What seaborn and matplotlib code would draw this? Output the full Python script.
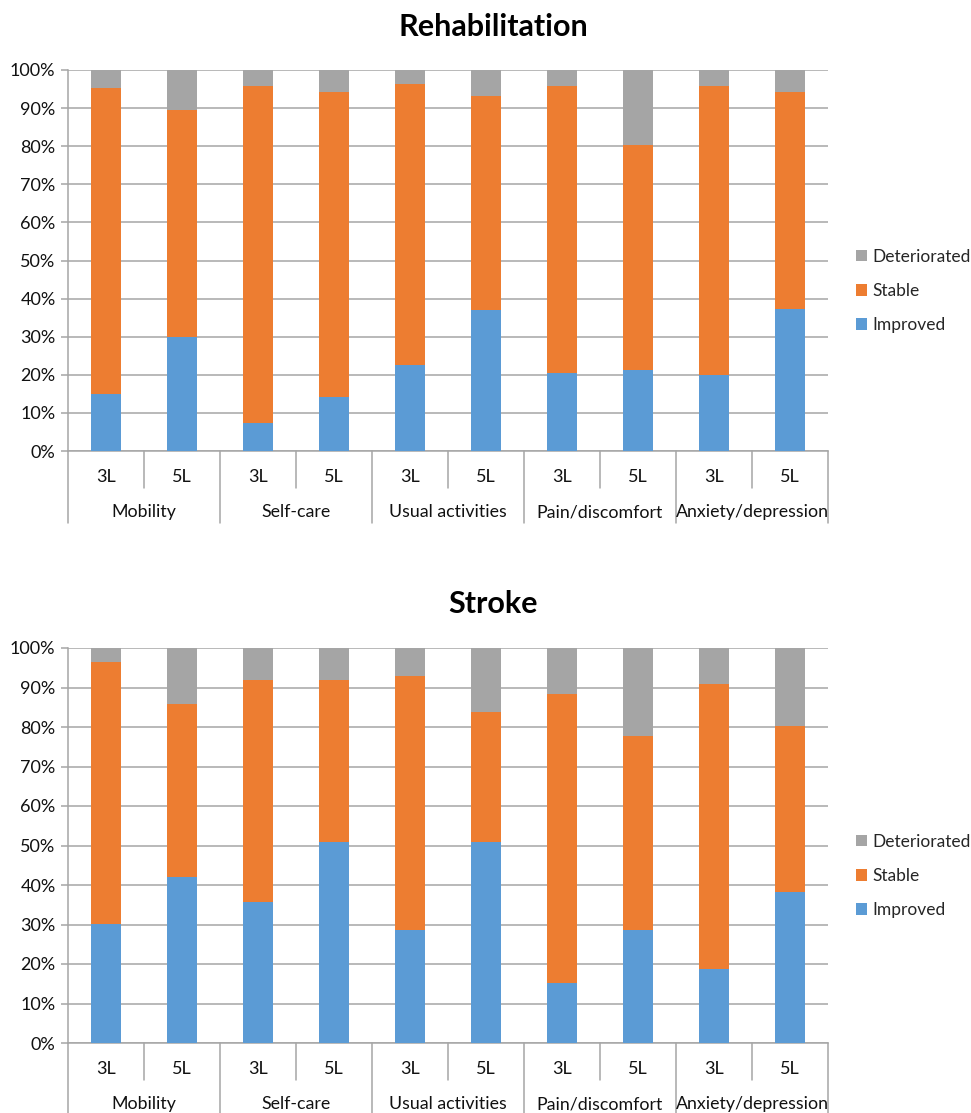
import numpy as np
import pandas as pd
import matplotlib
matplotlib.use("Agg")
import matplotlib.pyplot as plt
from matplotlib.patches import Patch
from matplotlib.lines import Line2D
import seaborn as sns

# EQ-5D dimensions and instrument versions
dimensions = ["Mobility", "Self-care", "Usual activities", "Pain/discomfort", "Anxiety/depression"]
versions = ["3L", "5L"]

# Percent of patients per change category, ordered Mobility 3L, Mobility 5L, Self-care 3L, ...
rehab_improved = [15.0, 30.0, 7.3, 14.1, 22.7, 37.0, 20.4, 21.2, 19.9, 37.4]
rehab_stable = [80.4, 59.6, 88.6, 80.0, 73.7, 56.3, 75.5, 59.0, 76.0, 56.7]
rehab_deteriorated = [4.6, 10.4, 4.1, 5.9, 3.6, 6.7, 4.1, 19.8, 4.1, 5.9]

stroke_improved = [30.2, 42.0, 35.6, 50.8, 28.5, 50.8, 15.2, 28.5, 18.7, 38.3]
stroke_stable = [66.2, 43.7, 56.3, 41.1, 64.3, 33.1, 73.1, 49.1, 72.3, 42.0]
stroke_deteriorated = [3.6, 14.3, 8.1, 8.1, 7.2, 16.1, 11.7, 22.4, 9.0, 19.7]

COLORS = {"Improved": "#5B9BD5", "Stable": "#ED7D31", "Deteriorated": "#A5A5A5"}
GRID = "#A6A6A6"
TEXT = "#111111"
FONT = ["Lato", "DejaVu Sans"]
LABEL_SIZE = 12.8

sns.set_theme(style="white")
plt.rcParams["font.family"] = FONT

W, H = 971, 1113
fig = plt.figure(figsize=(W / 100, H / 100), dpi=100)


def px_axes(left, top, right, bottom):
    return fig.add_axes([left / W, 1 - bottom / H, (right - left) / W, (bottom - top) / H])


slots = [f"{d} {v}" for d in dimensions for v in versions]


def draw_panel(ax, title, title_y, improved, stable, deteriorated, legend_y):
    df = pd.DataFrame({
        "slot": slots,
        "Improved": improved,
        "Stable": stable,
        "Deteriorated": deteriorated,
    })
    df["top_stable"] = df["Improved"] + df["Stable"]
    df["top_all"] = df["top_stable"] + df["Deteriorated"]

    # stacked bars: draw cumulative totals from the top layer down
    for col, key in [("top_all", "Deteriorated"), ("top_stable", "Stable"), ("Improved", "Improved")]:
        sns.barplot(data=df, x="slot", y=col, order=slots, color=COLORS[key],
                    saturation=1, width=0.4, errorbar=None, ax=ax,
                    edgecolor="none", linewidth=0, zorder=3)

    ax.set_ylim(0, 100)
    ax.set_xlim(-0.5, len(slots) - 0.5)
    ax.set_yticks(np.arange(0, 101, 10))
    ax.set_yticklabels([f"{v}%" for v in range(0, 101, 10)], fontsize=13)
    ax.yaxis.grid(True, color=GRID, linewidth=1.1, zorder=0)
    ax.set_axisbelow(True)
    ax.set_xlabel("")
    ax.set_ylabel("")
    ax.set_xticks([])
    for s in ["top", "right"]:
        ax.spines[s].set_visible(False)
    for s in ["left", "bottom"]:
        ax.spines[s].set_color(GRID)
        ax.spines[s].set_linewidth(1.1)
    ax.tick_params(axis="y", left=True, length=5, color=GRID, width=1.1, pad=4, labelcolor=TEXT)

    # two-level category axis drawn below the plot area
    ax_h = ax.get_position().height * H
    def yfrac(px_below):
        return -px_below / ax_h
    tr = ax.get_xaxis_transform()
    for i in range(len(slots) + 1):
        xb = i - 0.5
        depth = 72 if i % 2 == 0 else 37
        ax.add_line(Line2D([xb, xb], [0, yfrac(depth)], transform=tr, color=GRID,
                           linewidth=1.1, clip_on=False))
    for i, s in enumerate(slots):
        ax.text(i, yfrac(31), s.split(" ")[-1], transform=tr, ha="center", va="baseline",
                fontsize=13, color=TEXT)
    for j, d in enumerate(dimensions):
        ax.text(2 * j + 0.5, yfrac(66), d, transform=tr, ha="center", va="baseline",
                fontsize=LABEL_SIZE, color=TEXT)

    fig.text(493 / W, 1 - title_y / H, title, ha="center", va="center",
             fontsize=22, fontweight="bold", color="black")

    handles = [Patch(facecolor=COLORS[k], edgecolor="none") for k in ["Deteriorated", "Stable", "Improved"]]
    fig.legend(handles, ["Deteriorated", "Stable", "Improved"], loc="center left",
               bbox_to_anchor=(856 / W, 1 - legend_y / H), frameon=False,
               fontsize=12.5, handlelength=0.62, handleheight=0.62, handletextpad=0.3,
               labelspacing=1.05, borderaxespad=0, borderpad=0)


ax1 = px_axes(68, 70, 828, 451)
draw_panel(ax1, "Rehabilitation", 27, rehab_improved, rehab_stable, rehab_deteriorated, 291)

ax2 = px_axes(68, 648, 828, 1043)
draw_panel(ax2, "Stroke", 604, stroke_improved, stroke_stable, stroke_deteriorated, 876)

fig.savefig("out.png", dpi=100, facecolor="white")
